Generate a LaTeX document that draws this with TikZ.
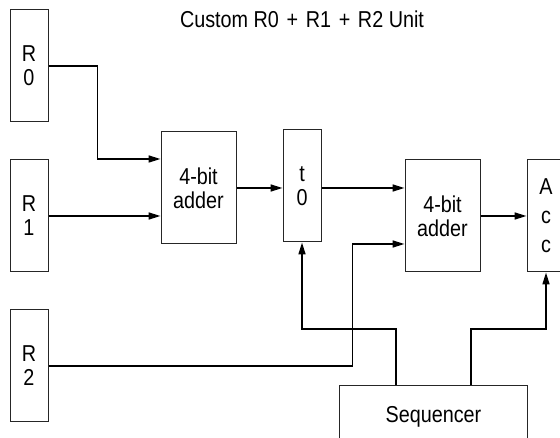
\documentclass[tikz,border=0pt]{standalone}
\usepackage{fontspec}
\setmainfont[FakeStretch=0.86]{Liberation Sans}
\usetikzlibrary{arrows.meta}
\begin{document}
\begin{tikzpicture}[x=1pt,y=-1pt,
  lbl/.style={font=\fontsize{23}{24}\selectfont},
  box/.style={lbl, draw=black!85, line width=1pt, inner sep=0pt, align=center},
  tall/.style={box, minimum width=38pt, minimum height=112pt},
  adder/.style={box, minimum width=75pt, minimum height=112pt},
  conn/.style={line width=1.6pt, -{Triangle[length=12pt,width=7pt]}}]
\useasboundingbox (0,0) rectangle (560,438);
\node[lbl, anchor=base, inner sep=0pt] (title) at (302,28) {Custom R0\,\,+\,\,R1\,\,+\,\,R2 Unit};
\node[tall] (R0) at (29,66) {R\\0};
\node[tall] (R1) at (29,216) {R\\1};
\node[tall] (R2) at (29,366) {R\\2};
\node[adder] (adder1) at (198.5,188) {4-bit\\adder};
\node[tall] (t0) at (302,186) {t\\0};
\node[adder] (adder2) at (442.5,216) {4-bit\\adder};
\node[tall, font=\fontsize{23}{29}\selectfont] (Acc) at (546,216) {A\\c\\c};
\node[box, minimum width=188pt, text height=37pt, text depth=38pt, anchor=north west] (seq) at (339,385) {Sequencer};
\draw[conn] (R0.east) -- ++(49,0) |- ([yshift=29pt]adder1.west);
\draw[conn] (R1.east) -- (R1.east -| adder1.west);
\draw[conn] (adder1.east) -- (adder1.east -| t0.west);
\draw[conn] (t0.east |- adder1.east) -- (adder1.east -| adder2.west);
\draw[conn] (adder2.east) -- (Acc.west);
\draw[conn] (R2.east) -- ++(304,0) |- ([yshift=-28pt]adder2.west);
\draw[conn] ([xshift=57pt]seq.north west) -- ++(0,-56) -| (t0.south);
\draw[conn] ([xshift=132pt]seq.north west) -- ++(0,-56) -| (Acc.south);
\end{tikzpicture}
\end{document}
